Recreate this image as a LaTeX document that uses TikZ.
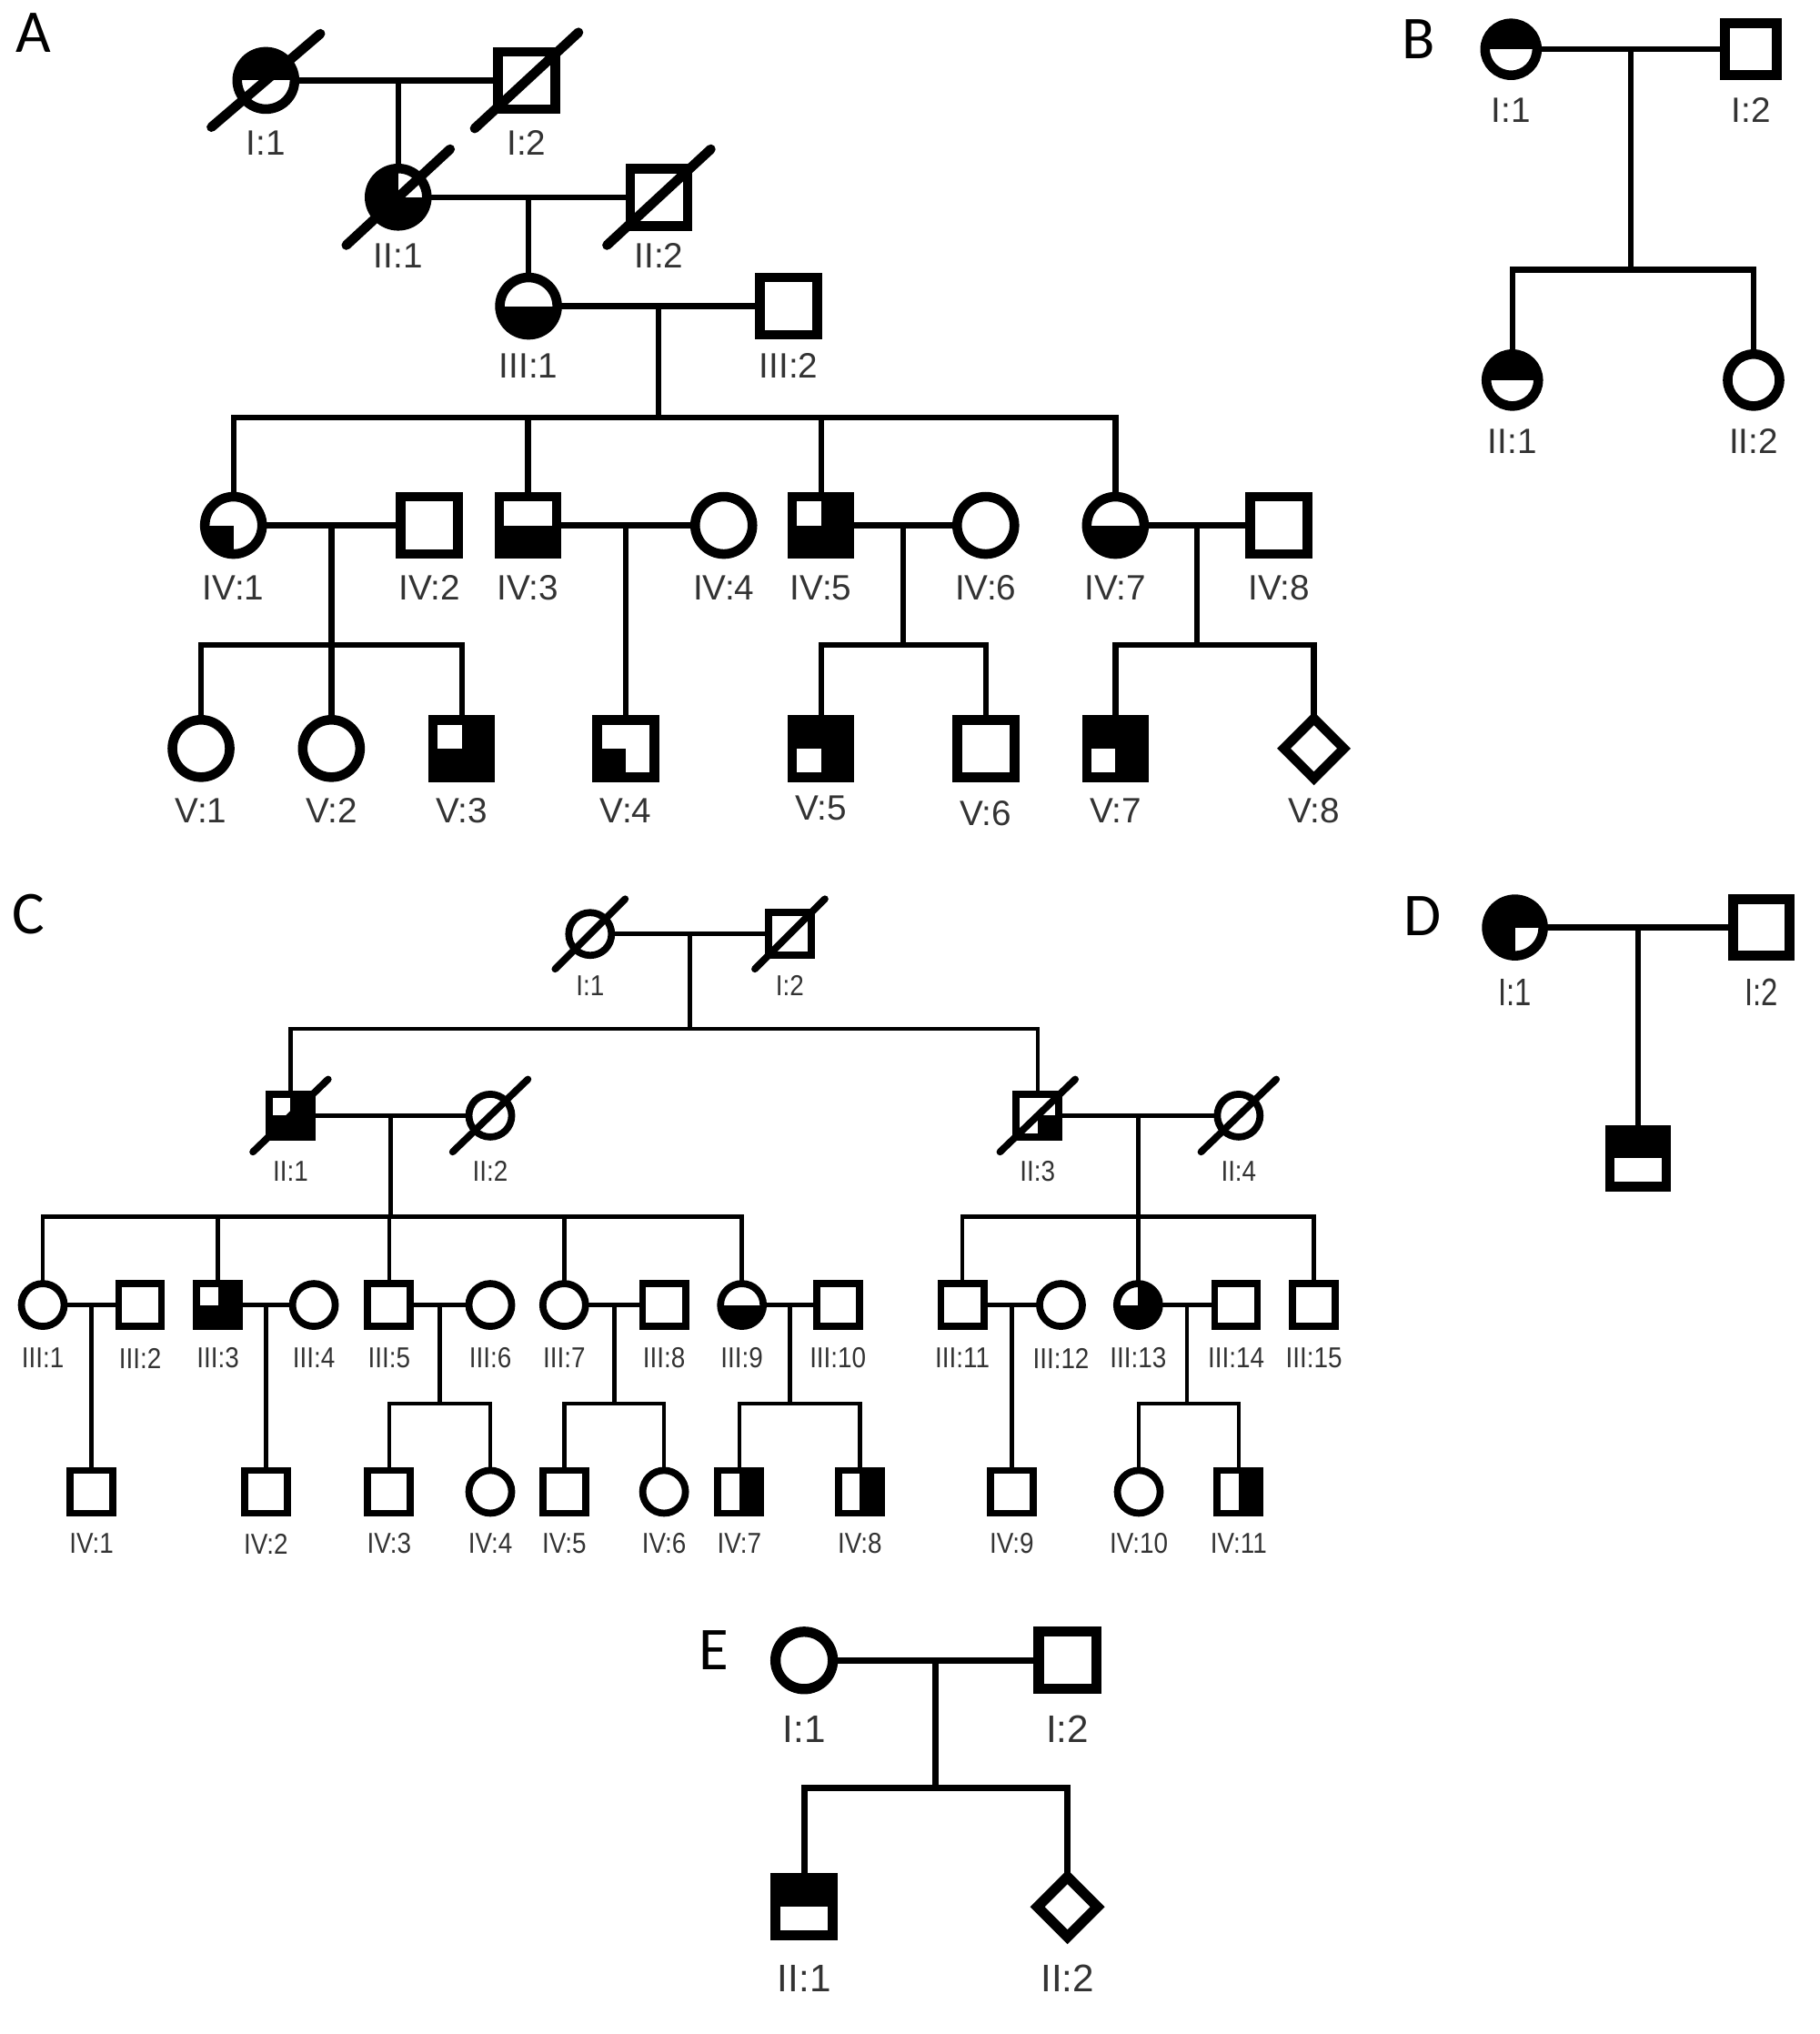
\documentclass[tikz,border=0pt]{standalone}
\usepackage{fontspec}
\setmainfont{Liberation Sans}
\newfontfamily\panelfont{Carlito}
\newfontfamily\condC[FakeStretch=0.88]{Liberation Sans}
\newfontfamily\condD[FakeStretch=0.78]{Liberation Sans}
\usetikzlibrary{shapes.geometric,calc}

\newcommand\indiv[7]{\node[#1] (#2) at (#3,#4) {};\node[#7] (#2-l) at ($(#2)+(0,#6)$) {#5};}
\newcommand\deadmark[4]{\draw[line width=#4,line cap=round] ($(#1)+(-#2,#3)$) -- ($(#1)+(#2,-#3)$);}

\tikzset{
  fem/.style={circle,draw,inner sep=0pt,outer sep=0pt},
  mal/.style={rectangle,draw,inner sep=0pt,outer sep=0pt},
  unk/.style={diamond,draw,inner sep=0pt,outer sep=0pt,aspect=1},
  symA/.style={line width=3pt,minimum size=0.63cm},
  symB/.style={line width=3pt,minimum size=0.57cm},
  symC/.style={line width=2.2pt,minimum size=0.47cm},
  symD/.style={line width=3pt,minimum size=0.62cm},
  symE/.style={line width=3.2pt,minimum size=0.63cm},
  ftop/.style={path picture={\fill[black] (path picture bounding box.north west) rectangle (path picture bounding box.east);}},
  fbot/.style={path picture={\fill[black] (path picture bounding box.south west) rectangle (path picture bounding box.east);}},
  fright/.style={path picture={\fill[black] (path picture bounding box.north) rectangle (path picture bounding box.south east);}},
  fLL/.style={path picture={\fill[black] (path picture bounding box.south west) rectangle (path picture bounding box.center);}},
  fLR/.style={path picture={\fill[black] (path picture bounding box.south east) rectangle (path picture bounding box.center);}},
  exUL/.style={path picture={\fill[black] (path picture bounding box.south west) rectangle (path picture bounding box.north east);
      \fill[white] (path picture bounding box.north west) rectangle (path picture bounding box.center);}},
  exUR/.style={path picture={\fill[black] (path picture bounding box.south west) rectangle (path picture bounding box.north east);
      \fill[white] (path picture bounding box.north east) rectangle (path picture bounding box.center);}},
  exLL/.style={path picture={\fill[black] (path picture bounding box.south west) rectangle (path picture bounding box.north east);
      \fill[white] (path picture bounding box.south west) rectangle (path picture bounding box.center);}},
  exLR/.style={path picture={\fill[black] (path picture bounding box.south west) rectangle (path picture bounding box.north east);
      \fill[white] (path picture bounding box.south east) rectangle (path picture bounding box.center);}},
  labA/.style={inner sep=0pt,text=black!80,font=\fontsize{11}{13}\selectfont},
  labC/.style={inner sep=0pt,text=black!80,font=\condC\fontsize{9}{11}\selectfont},
  labD/.style={inner sep=0pt,text=black!80,font=\condD\fontsize{12}{14}\selectfont},
  labE/.style={inner sep=0pt,text=black!80,font=\fontsize{12}{14}\selectfont},
  panel/.style={inner sep=0pt,font=\panelfont\fontsize{19}{22}\selectfont},
  ln/.style={line width=1.8pt},
  lnC/.style={line width=1.3pt},
  lnE/.style={line width=2pt}
}

\begin{document}
\begin{tikzpicture}[x=0.014255cm,y=-0.014255cm]
\useasboundingbox (0,0) rectangle (1403,1568);
\fill[white] (0,0) rectangle (1403,1568);

% ---------------- panel letters
\node[panel] (pA) at (26,25) {A};
\node[panel] (pB) at (1094,30) {B};
\node[panel] (pC) at (22,705) {C};
\node[panel] (pD) at (1097,706) {D};
\node[panel] (pE) at (550,1272) {E};

% ---------------- panel A
\indiv{fem,symA,ftop}{A11}{205}{62}{I:1}{48}{labA}
\indiv{mal,symA}{A12}{406}{62}{I:2}{48}{labA}
\indiv{fem,symA,exUR}{A21}{307}{152}{II:1}{45}{labA}
\indiv{mal,symA}{A22}{508}{152}{II:2}{45}{labA}
\indiv{fem,symA,fbot}{A31}{407.5}{236}{III:1}{46}{labA}
\indiv{mal,symA}{A32}{608}{236}{III:2}{46}{labA}
\indiv{fem,symA,fLL}{A41}{180}{405}{IV:1}{48}{labA}
\indiv{mal,symA}{A42}{331}{405}{IV:2}{48}{labA}
\indiv{mal,symA,fbot}{A43}{407}{405}{IV:3}{48}{labA}
\indiv{fem,symA}{A44}{558}{405}{IV:4}{48}{labA}
\indiv{mal,symA,exUL}{A45}{633}{405}{IV:5}{48}{labA}
\indiv{fem,symA}{A46}{760}{405}{IV:6}{48}{labA}
\indiv{fem,symA,fbot}{A47}{860}{405}{IV:7}{48}{labA}
\indiv{mal,symA}{A48}{986}{405}{IV:8}{48}{labA}
\indiv{fem,symA}{A51}{155}{577}{V:1}{48}{labA}
\indiv{fem,symA}{A52}{255.5}{577}{V:2}{48}{labA}
\indiv{mal,symA,exUL}{A53}{356}{577}{V:3}{48}{labA}
\indiv{mal,symA,fLL}{A54}{482.5}{577}{V:4}{48}{labA}
\indiv{mal,symA,exLL}{A55}{633}{577}{V:5}{46}{labA}
\indiv{mal,symA}{A56}{760}{577}{V:6}{50}{labA}
\indiv{mal,symA,exLL}{A57}{860}{577}{V:7}{48}{labA}
\indiv{unk,symA,minimum size=0.66cm}{A58}{1013}{577}{V:8}{48}{labA}

\draw[ln] (A11) -- (A12);
\draw[ln] (A21) -- (A22);
\draw[ln] (A31) -- (A32);
\draw[ln] (A41) -- (A42);
\draw[ln] (A43) -- (A44);
\draw[ln] (A45) -- (A46);
\draw[ln] (A47) -- (A48);
\draw[ln] (A21.north) -- (A21 |- A11);
\draw[ln] (A31.north) -- (A31 |- A21);
\coordinate (mA3) at ($(A31)!0.5!(A32)$);
\coordinate (sA4) at (507.75,322);
\draw[ln] (mA3) -- (sA4);
\draw[ln] (A41.north) |- (sA4) -| (A47.north);
\draw[ln] (A43.north) -- (A43 |- sA4);
\draw[ln] (A45.north) -- (A45 |- sA4);
\coordinate (mA41) at ($(A41)!0.5!(A42)$);
\coordinate (sA51) at (255.5,497);
\draw[ln] (A52.north) -- (mA41);
\draw[ln] (A51.north) |- (sA51) -| (A53.north);
\draw[ln] (A54.north) -- (A54 |- A43);
\coordinate (mA45) at ($(A45)!0.5!(A46)$);
\coordinate (sA55) at (696.5,497);
\draw[ln] (mA45) -- (sA55);
\draw[ln] (A55.north) |- (sA55) -| (A56.north);
\coordinate (mA47) at ($(A47)!0.5!(A48)$);
\coordinate (sA57) at (923,497);
\draw[ln] (mA47) -- (sA57);
\draw[ln] (A57.north) |- (sA57) -| (A58.north);

\deadmark{A11}{42}{36}{3pt}
\deadmark{A12}{40}{37}{3pt}
\deadmark{A21}{40}{37}{3pt}
\deadmark{A22}{40}{37}{3pt}

% ---------------- panel B
\indiv{fem,symB,ftop}{B11}{1165}{38}{I:1}{47}{labA}
\indiv{mal,symB}{B12}{1350}{38}{I:2}{47}{labA}
\indiv{fem,symB,ftop}{B21}{1166}{293}{II:1}{47}{labA}
\indiv{fem,symB}{B22}{1352}{293}{II:2}{47}{labA}
\draw[ln] (B11) -- (B12);
\coordinate (mB1) at ($(B11)!0.5!(B12)$);
\coordinate (sB2) at (1257.5,208);
\draw[ln] (mB1) -- (sB2);
\draw[ln] (B21.north) |- (sB2) -| (B22.north);

% ---------------- panel C
\indiv{fem,symC}{C11}{455}{720}{I:1}{40}{labC}
\indiv{mal,symC}{C12}{609}{720}{I:2}{40}{labC}
\indiv{mal,symC,exUL}{C21}{224}{860}{II:1}{43}{labC}
\indiv{fem,symC}{C22}{378}{860}{II:2}{43}{labC}
\indiv{mal,symC,fLR}{C23}{800}{860}{II:3}{43}{labC}
\indiv{fem,symC}{C24}{955}{860}{II:4}{43}{labC}
\indiv{fem,symC}{C31}{33}{1006}{III:1}{41}{labC}
\indiv{mal,symC}{C32}{108}{1006}{III:2}{41}{labC}
\indiv{mal,symC,exUL}{C33}{168}{1006}{III:3}{41}{labC}
\indiv{fem,symC}{C34}{242}{1006}{III:4}{41}{labC}
\indiv{mal,symC}{C35}{300}{1006}{III:5}{41}{labC}
\indiv{fem,symC}{C36}{378}{1006}{III:6}{41}{labC}
\indiv{fem,symC}{C37}{435}{1006}{III:7}{41}{labC}
\indiv{mal,symC}{C38}{512}{1006}{III:8}{41}{labC}
\indiv{fem,symC,fbot}{C39}{572}{1006}{III:9}{41}{labC}
\indiv{mal,symC}{C310}{646}{1006}{III:10}{41}{labC}
\indiv{mal,symC}{C311}{742}{1006}{III:11}{41}{labC}
\indiv{fem,symC}{C312}{818}{1006}{III:12}{41}{labC}
\indiv{fem,symC,exUL}{C313}{877.5}{1006}{III:13}{41}{labC}
\indiv{mal,symC}{C314}{953}{1006}{III:14}{41}{labC}
\indiv{mal,symC}{C315}{1013}{1006}{III:15}{41}{labC}
\indiv{mal,symC}{C41}{70.5}{1150}{IV:1}{40}{labC}
\indiv{mal,symC}{C42}{205}{1150}{IV:2}{40}{labC}
\indiv{mal,symC}{C43}{300}{1150}{IV:3}{40}{labC}
\indiv{fem,symC}{C44}{378}{1150}{IV:4}{40}{labC}
\indiv{mal,symC}{C45}{435}{1150}{IV:5}{40}{labC}
\indiv{fem,symC}{C46}{512}{1150}{IV:6}{40}{labC}
\indiv{mal,symC,fright}{C47}{570}{1150}{IV:7}{40}{labC}
\indiv{mal,symC,fright}{C48}{663}{1150}{IV:8}{40}{labC}
\indiv{mal,symC}{C49}{780}{1150}{IV:9}{40}{labC}
\indiv{fem,symC}{C410}{878}{1150}{IV:10}{40}{labC}
\indiv{mal,symC,fright}{C411}{955}{1150}{IV:11}{40}{labC}

\draw[lnC] (C11) -- (C12);
\coordinate (mC1) at ($(C11)!0.5!(C12)$);
\coordinate (sC2) at (532,793);
\draw[lnC] (mC1) -- (sC2);
\draw[lnC] (C21.north) |- (sC2) -| (C23.north);
\draw[lnC] (C21) -- (C22);
\draw[lnC] (C23) -- (C24);
\coordinate (mC21) at ($(C21)!0.5!(C22)$);
\coordinate (sC3a) at (301,938);
\draw[lnC] (mC21) -- (sC3a);
\draw[lnC] (C31.north) |- (sC3a) -| (C39.north);
\draw[lnC] (C33.north) -- (C33 |- sC3a);
\draw[lnC] (C35.north) -- (C35 |- sC3a);
\draw[lnC] (C37.north) -- (C37 |- sC3a);
\coordinate (mC23) at ($(C23)!0.5!(C24)$);
\coordinate (sC3b) at (877.5,938);
\draw[lnC] (mC23) -- (sC3b);
\draw[lnC] (C311.north) |- (sC3b) -| (C315.north);
\draw[lnC] (C313.north) -- (C313 |- sC3b);
\draw[lnC] (C31) -- (C32);
\draw[lnC] (C33) -- (C34);
\draw[lnC] (C35) -- (C36);
\draw[lnC] (C37) -- (C38);
\draw[lnC] (C39) -- (C310);
\draw[lnC] (C311) -- (C312);
\draw[lnC] (C313) -- (C314);
\draw[lnC] (C41.north) -- (C41 |- C31);
\draw[lnC] (C42.north) -- (C42 |- C33);
\coordinate (mC35) at ($(C35)!0.5!(C36)$);
\coordinate (sC4a) at (339,1082);
\draw[lnC] (mC35) -- (sC4a);
\draw[lnC] (C43.north) |- (sC4a) -| (C44.north);
\coordinate (mC37) at ($(C37)!0.5!(C38)$);
\coordinate (sC4b) at (473.5,1082);
\draw[lnC] (mC37) -- (sC4b);
\draw[lnC] (C45.north) |- (sC4b) -| (C46.north);
\coordinate (mC39) at ($(C39)!0.5!(C310)$);
\coordinate (sC4c) at (609,1082);
\draw[lnC] (mC39) -- (sC4c);
\draw[lnC] (C47.north) |- (sC4c) -| (C48.north);
\draw[lnC] (C49.north) -- (C49 |- C311);
\coordinate (mC313) at ($(C313)!0.5!(C314)$);
\coordinate (sC4d) at (915.25,1082);
\draw[lnC] (mC313) -- (sC4d);
\draw[lnC] (C410.north) |- (sC4d) -| (C411.north);

\deadmark{C11}{27}{27}{2.2pt}
\deadmark{C12}{27}{27}{2.2pt}
\deadmark{C21}{29}{28}{2.2pt}
\deadmark{C22}{29}{28}{2.2pt}
\deadmark{C23}{29}{28}{2.2pt}
\deadmark{C24}{29}{28}{2.2pt}

% ---------------- panel D
\indiv{fem,symD,exLR}{D11}{1168}{715}{I:1}{50}{labD}
\indiv{mal,symD}{D12}{1358}{715}{I:2}{50}{labD}
\node[mal,symD,ftop] (D21) at (1263,893) {};
\draw[ln] (D11) -- (D12);
\draw[ln] (D21.north) -- (D21 |- D11);

% ---------------- panel E
\indiv{fem,symE}{E11}{620}{1280}{I:1}{53}{labE}
\indiv{mal,symE}{E12}{823}{1280}{I:2}{53}{labE}
\indiv{mal,symE,ftop}{E21}{620}{1470}{II:1}{55}{labE}
\indiv{unk,symE,minimum size=0.66cm}{E22}{823}{1470}{II:2}{55}{labE}
\draw[lnE] (E11) -- (E12);
\coordinate (mE1) at ($(E11)!0.5!(E12)$);
\coordinate (sE2) at (721.5,1378);
\draw[lnE] (mE1) -- (sE2);
\draw[lnE] (E21.north) |- (sE2) -| (E22.north);
\end{tikzpicture}
\end{document}
